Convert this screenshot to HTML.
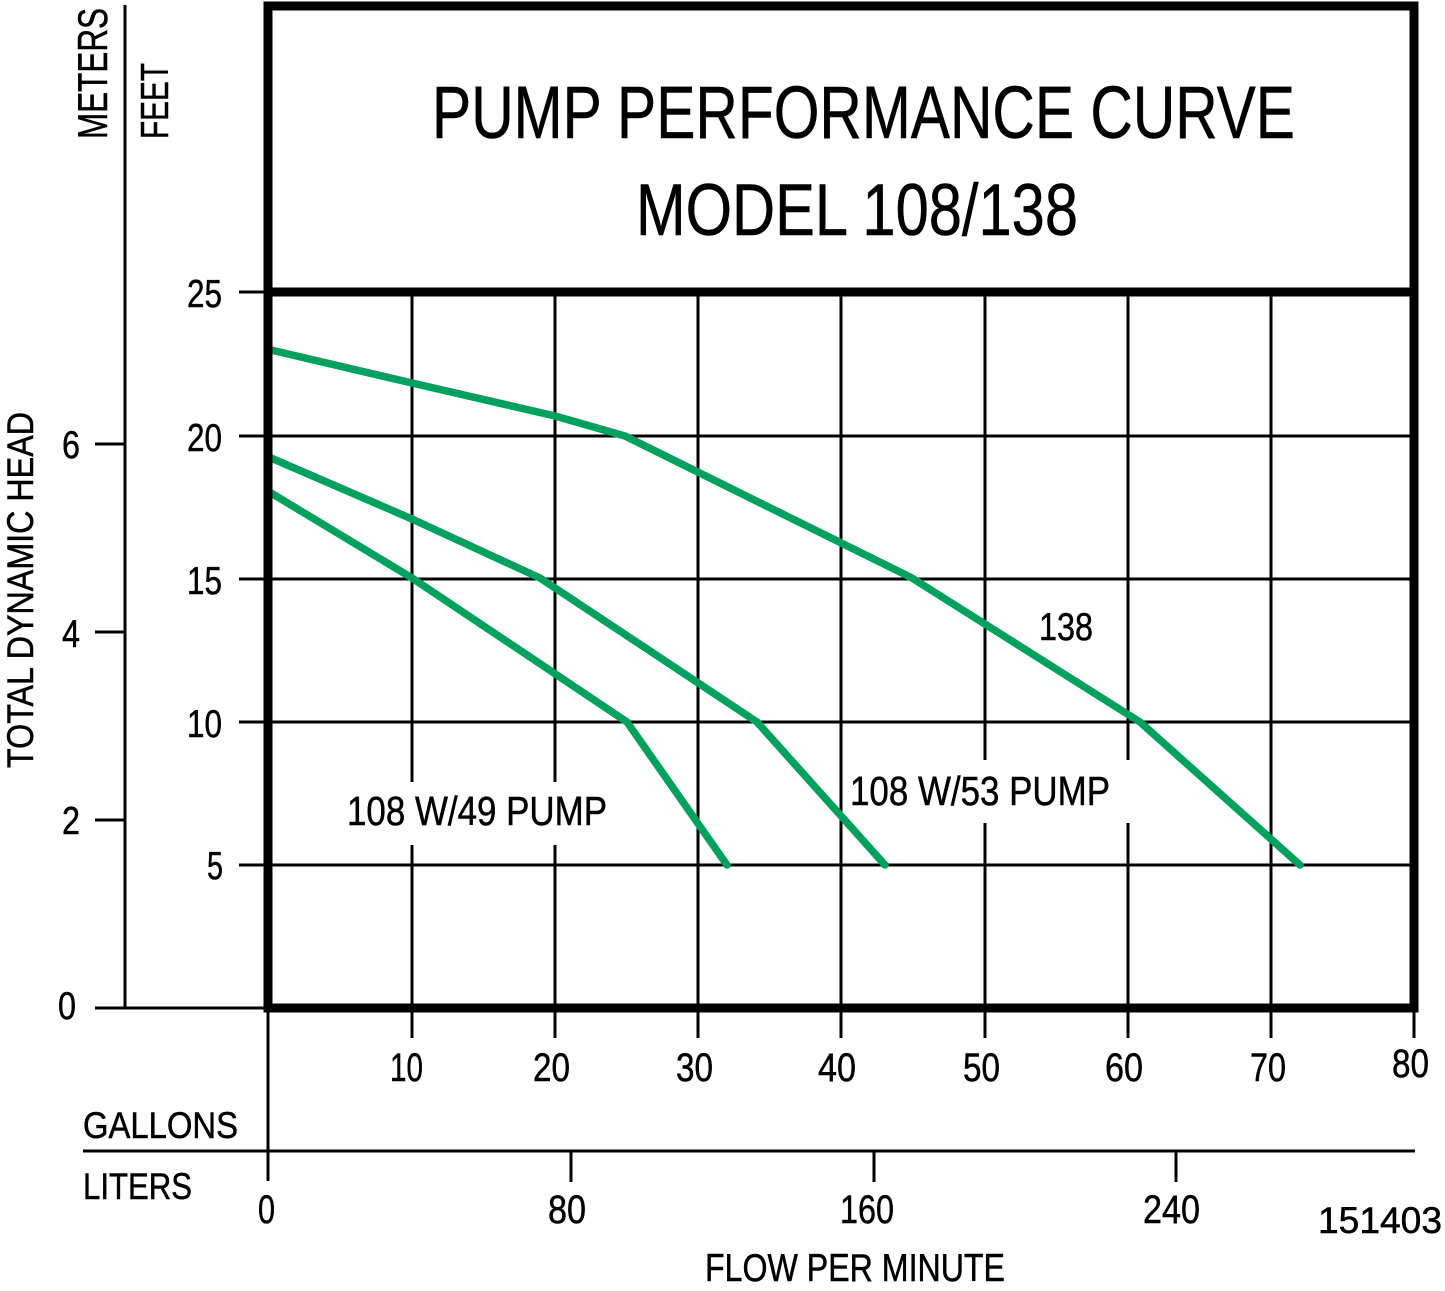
<!DOCTYPE html>
<html>
<head>
<meta charset="utf-8">
<style>
  html, body { margin: 0; padding: 0; background: #ffffff; }
  svg { display: block; }
  text { font-family: "Liberation Sans", "DejaVu Sans", sans-serif; fill: #000; stroke: #000; stroke-width: 0.5px; }
</style>
</head>
<body>
<svg width="1445" height="1291" viewBox="0 0 1445 1291" xmlns="http://www.w3.org/2000/svg">
  <rect x="0" y="0" width="1445" height="1291" fill="#fff"/>

  <!-- Title -->
  <text x="432" y="138" font-size="74" textLength="863" lengthAdjust="spacingAndGlyphs">PUMP PERFORMANCE CURVE</text>
  <text x="636" y="235" font-size="73" textLength="442" lengthAdjust="spacingAndGlyphs">MODEL 108/138</text>

  <!-- Rotated axis labels -->
  <text transform="translate(107,139) rotate(-90)" font-size="42" textLength="131" lengthAdjust="spacingAndGlyphs">METERS</text>
  <text transform="translate(168,139) rotate(-90)" font-size="39" textLength="76" lengthAdjust="spacingAndGlyphs">FEET</text>
  <text transform="translate(33,768) rotate(-90)" font-size="37" textLength="356" lengthAdjust="spacingAndGlyphs">TOTAL DYNAMIC HEAD</text>

  <g stroke="#000" stroke-width="3" fill="none" stroke-linecap="butt">
    <!-- meter axis -->
    <line x1="125" y1="5" x2="125" y2="1008"/>
    <line x1="95" y1="444" x2="125" y2="444"/>
    <line x1="95" y1="632" x2="125" y2="632"/>
    <line x1="95" y1="820" x2="125" y2="820"/>
    <line x1="95" y1="1008" x2="268" y2="1008"/>

    <!-- feet ticks + horizontal gridlines -->
    <line x1="239" y1="292" x2="268" y2="292"/>
    <line x1="239" y1="436" x2="1414" y2="436"/>
    <line x1="239" y1="579" x2="1414" y2="579"/>
    <line x1="239" y1="722" x2="1414" y2="722"/>
    <line x1="239" y1="865" x2="1414" y2="865"/>

    <!-- vertical gridlines (with gaps for labels) -->
    <line x1="412" y1="292" x2="412" y2="782"/>
    <line x1="412" y1="845" x2="412" y2="1038"/>
    <line x1="555" y1="292" x2="555" y2="782"/>
    <line x1="555" y1="845" x2="555" y2="1038"/>
    <line x1="698" y1="292" x2="698" y2="1038"/>
    <line x1="841" y1="292" x2="841" y2="1038"/>
    <line x1="985" y1="292" x2="985" y2="760"/>
    <line x1="985" y1="823" x2="985" y2="1038"/>
    <line x1="1128" y1="292" x2="1128" y2="760"/>
    <line x1="1128" y1="823" x2="1128" y2="1038"/>
    <line x1="1271" y1="292" x2="1271" y2="1038"/>
    <line x1="1414" y1="1008" x2="1414" y2="1038"/>

    <!-- lower axis lines -->
    <line x1="268" y1="1008" x2="268" y2="1181"/>
    <line x1="83" y1="1151" x2="1415" y2="1151"/>
    <line x1="571" y1="1151" x2="571" y2="1182"/>
    <line x1="874" y1="1151" x2="874" y2="1182"/>
    <line x1="1176" y1="1151" x2="1176" y2="1182"/>
  </g>

  <!-- Curves -->
  <g stroke="#00a05e" stroke-width="7.5" fill="none" stroke-linejoin="round" stroke-linecap="round">
    <polyline points="271,350 412,383 555,416 625,436 912,578 1140,722 1300,865"/>
    <polyline points="271,458 412,519 540,578 757,722 885,865"/>
    <polyline points="271,493 412,578 627,722 727,865"/>
  </g>

  <!-- Thick box -->
  <g stroke="#000" stroke-width="9" fill="none" stroke-linejoin="miter">
    <rect x="268" y="6" width="1146" height="1002"/>
    <line x1="268" y1="292" x2="1414" y2="292"/>
  </g>

  <!-- Feet labels -->
  <text x="187" y="307" font-size="39" textLength="35" lengthAdjust="spacingAndGlyphs">25</text>
  <text x="187" y="451" font-size="39" textLength="35" lengthAdjust="spacingAndGlyphs">20</text>
  <text x="187" y="594" font-size="39" textLength="35" lengthAdjust="spacingAndGlyphs">15</text>
  <text x="187" y="737" font-size="39" textLength="35" lengthAdjust="spacingAndGlyphs">10</text>
  <text x="207" y="879" font-size="39" textLength="16" lengthAdjust="spacingAndGlyphs">5</text>

  <!-- Meter labels -->
  <text x="62" y="458" font-size="39" textLength="18" lengthAdjust="spacingAndGlyphs">6</text>
  <text x="62" y="647" font-size="39" textLength="18" lengthAdjust="spacingAndGlyphs">4</text>
  <text x="62" y="834" font-size="39" textLength="18" lengthAdjust="spacingAndGlyphs">2</text>
  <text x="58" y="1019" font-size="39" textLength="18" lengthAdjust="spacingAndGlyphs">0</text>

  <!-- Gallon labels -->
  <text x="390" y="1081" font-size="40" textLength="33" lengthAdjust="spacingAndGlyphs">10</text>
  <text x="533" y="1081" font-size="40" textLength="37" lengthAdjust="spacingAndGlyphs">20</text>
  <text x="676" y="1081" font-size="40" textLength="37" lengthAdjust="spacingAndGlyphs">30</text>
  <text x="818" y="1081" font-size="40" textLength="38" lengthAdjust="spacingAndGlyphs">40</text>
  <text x="963" y="1081" font-size="40" textLength="37" lengthAdjust="spacingAndGlyphs">50</text>
  <text x="1105" y="1081" font-size="40" textLength="38" lengthAdjust="spacingAndGlyphs">60</text>
  <text x="1250" y="1081" font-size="40" textLength="36" lengthAdjust="spacingAndGlyphs">70</text>
  <text x="1392" y="1077" font-size="40" textLength="37" lengthAdjust="spacingAndGlyphs">80</text>

  <!-- Liter labels -->
  <text x="258" y="1223" font-size="40" textLength="17" lengthAdjust="spacingAndGlyphs">0</text>
  <text x="548" y="1223" font-size="40" textLength="38" lengthAdjust="spacingAndGlyphs">80</text>
  <text x="840" y="1223" font-size="40" textLength="54" lengthAdjust="spacingAndGlyphs">160</text>
  <text x="1143" y="1223" font-size="40" textLength="57" lengthAdjust="spacingAndGlyphs">240</text>

  <text x="83" y="1138" font-size="37" textLength="155" lengthAdjust="spacingAndGlyphs">GALLONS</text>
  <text x="83" y="1199" font-size="37" textLength="109" lengthAdjust="spacingAndGlyphs">LITERS</text>
  <text x="705" y="1281" font-size="39" textLength="300" lengthAdjust="spacingAndGlyphs">FLOW PER MINUTE</text>
  <text x="1318" y="1233" font-size="37" textLength="124" lengthAdjust="spacingAndGlyphs">151403</text>

  <!-- Curve labels -->
  <text x="1039" y="640" font-size="39" textLength="54" lengthAdjust="spacingAndGlyphs">138</text>
  <text x="850" y="805" font-size="41" textLength="260" lengthAdjust="spacingAndGlyphs">108 W/53 PUMP</text>
  <text x="347" y="825" font-size="41" textLength="260" lengthAdjust="spacingAndGlyphs">108 W/49 PUMP</text>
</svg>
</body>
</html>
